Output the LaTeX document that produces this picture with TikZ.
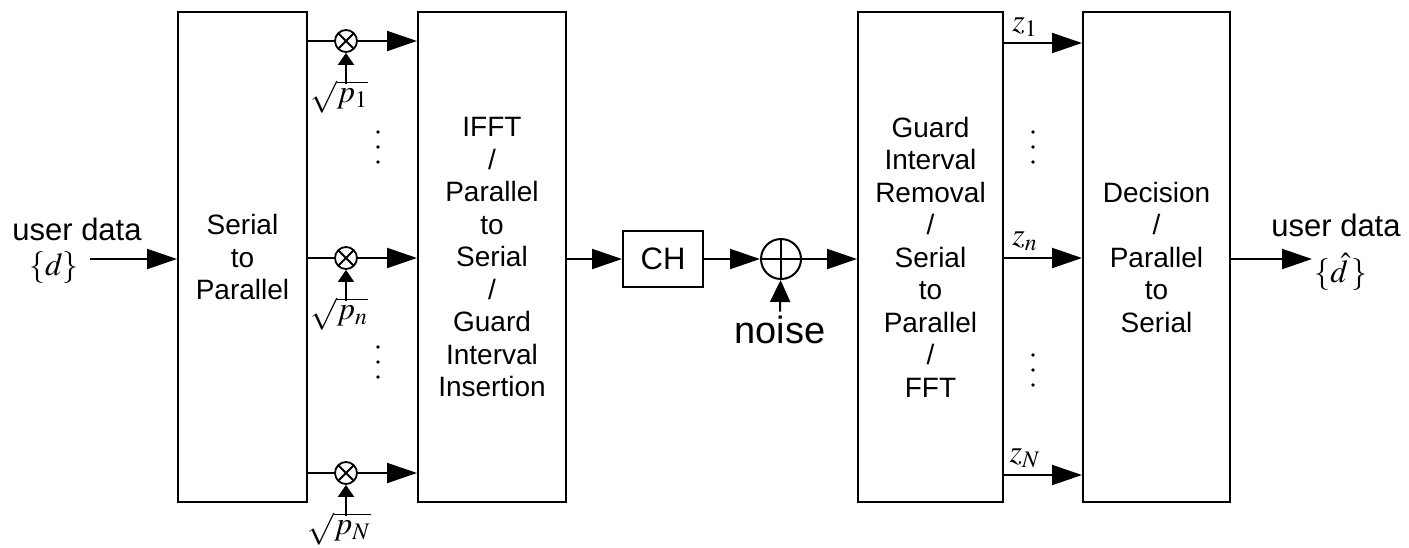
\documentclass[tikz,border=0pt]{standalone}
\usepackage{mathptmx}
\usepackage{fontspec}
\newfontfamily\gulim{Liberation Sans}
\usetikzlibrary{arrows.meta,positioning}

\begin{document}
\begin{tikzpicture}[x=0.5pt, y=-0.5pt,
    block/.style={draw, line width=1pt, minimum height=245pt, inner sep=0pt, align=center,
        font=\gulim\fontsize{14}{16.25}\selectfont},
    chbox/.style={draw, line width=1pt, minimum width=40pt, minimum height=28pt, inner sep=0pt,
        font=\gulim\fontsize{15.5}{18}\selectfont},
    mult/.style={circle, draw, line width=0.9pt, minimum size=11pt, inner sep=0pt,
        path picture={\draw[line width=0.9pt] (path picture bounding box.south west) -- (path picture bounding box.north east)
            (path picture bounding box.north west) -- (path picture bounding box.south east);}},
    adder/.style={circle, draw, line width=1pt, minimum size=20pt, inner sep=0pt,
        path picture={\draw[line width=1pt] (path picture bounding box.north) -- (path picture bounding box.south)
            (path picture bounding box.west) -- (path picture bounding box.east);}},
    sig/.style={line width=1pt, -{Triangle[length=15pt, width=10pt]}},
    tap/.style={line width=1pt, -{Triangle[length=6pt, width=8pt]}},
    lbl/.style={font=\gulim\fontsize{15.5}{18}\selectfont, inner sep=0pt},
    mth/.style={font=\fontsize{16}{18}\selectfont, inner sep=1pt}
]
    \useasboundingbox (0,0) rectangle (1409,547);

    % blocks
    \node[block, minimum width=64.5pt] (s2p) at (242.5,257) {Serial\\to\\Parallel};
    \node[block, minimum width=74pt] (ifft) at (492,257) {IFFT\\/\\Parallel\\to\\Serial\\/\\Guard\\Interval\\Insertion};
    \node[chbox] (ch) at (663,259) {CH};
    \node[adder] (add) at (781,259) {};
    \node[block, minimum width=72.5pt] (gir) at (930.5,257) {Guard\\Interval\\Removal\\/\\Serial\\to\\Parallel\\/\\FFT};
    \node[block, minimum width=73.5pt] (dec) at (1156.5,257) {Decision\\/\\Parallel\\to\\Serial};

    % input and output
    \node[lbl] (udin) at (77,229) {user data};
    \node[mth] (din) at (54,268) {$\{d\}$};
    \coordinate (in) at (90,259);
    \draw[sig] (in) -- (s2p.west |- in);

    \node[lbl] (udout) at (1336,225) {user data};
    \node[mth] (dout) at (1341,272) {$\{\hat{d}\,\}$};
    \coordinate (out) at (1312,259);
    \draw[sig] (dec.east |- out) -- (out);

    % power weighting
    \foreach \r/\y/\s in {1/41/1, n/258/n, N/473/N} {
        \node[mult] (m\r) at (346,\y) {};
        \node[mth] (sq\r) at (339,\y+56) {$\sqrt{p_{\s}}$};
        \draw[line width=1pt] (s2p.east |- m\r) -- (m\r);
        \draw[sig] (m\r) -- (ifft.west |- m\r);
        \draw[tap, shorten <=-3pt] (sq\r.north -| m\r) -- (m\r.south);
    }

    % channel and noise
    \draw[sig] (ifft.east |- ch) -- (ch);
    \draw[sig] (ch) -- (add);
    \draw[sig] (add) -- (gir.west |- add);
    \node[lbl, font=\gulim\fontsize{19}{22}\selectfont] (noise) at (780,330) {noise};
    \draw[line width=1pt, -{Triangle[length=11pt, width=10pt]}] (noise.north) ++(0,-4) -- (add);

    % sub-carrier outputs
    \foreach \r/\y/\s in {1/43/1, n/258/n, N/475/N} {
        \draw[sig] (gir.east |- 0,\y) -- (dec.west |- 0,\y) node[mth, pos=0.27, above=2pt] (z\r) {$z_{\s}$};
    }

    % dots
    \foreach \x/\y in {378/132, 378/147, 378/162, 378/347, 378/362, 378/377,
                       1033/132, 1033/147, 1033/162, 1033/355, 1033/370, 1033/385} {
        \fill (\x,\y) circle (0.9pt);
    }
\end{tikzpicture}
\end{document}
